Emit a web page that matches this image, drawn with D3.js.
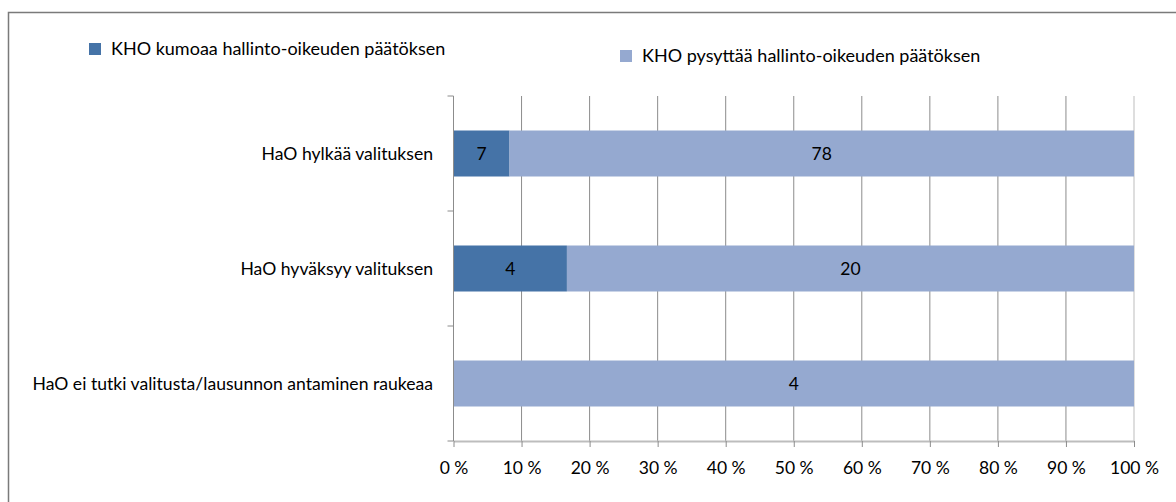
<!DOCTYPE html>
<html>
<head>
<meta charset="utf-8">
<script src="https://cdn.jsdelivr.net/npm/d3@7"></script>
<style>
  body { margin: 0; background: #fff; }
  svg text { font-family: Lato, "Open Sans", sans-serif; fill: #000; }
</style>
</head>
<body>
<div id="chart"></div>
<script>
// data
const categories = [
  "HaO hylkää valituksen",
  "HaO hyväksyy valituksen",
  "HaO ei tutki valitusta/lausunnon antaminen raukeaa"
]
const seriesNames = [
  "KHO kumoaa hallinto-oikeuden päätöksen",
  "KHO pysyttää hallinto-oikeuden päätöksen"
]
const kumoaa = [7, 4, 0]
const pysyttaa = [78, 20, 4]
const tickValues = [0, 0.1, 0.2, 0.3, 0.4, 0.5, 0.6, 0.7, 0.8, 0.9, 1]
const colors = ["#4573a7", "#95a9d0"]

const W = 1176, H = 502
const svg = d3.select("#chart").append("svg")
  .attr("width", W)
  .attr("height", H)

// outer frame (right/bottom edges run off the picture)
svg.append("rect")
  .attr("x", 8.5).attr("y", 12.5)
  .attr("width", 1300).attr("height", 600)
  .attr("fill", "#fff")
  .attr("stroke", "#7a7a7a")
  .attr("stroke-width", 1.5)

const x = d3.scaleLinear().domain([0, 1]).range([453.5, 1134])
const y = d3.scaleBand().domain(categories).range([96, 441])
  .paddingInner(0.6).paddingOuter(0.3)

// stack into shares
const rows = categories.map((c, i) => ({ cat: c, k: kumoaa[i], p: pysyttaa[i] }))
const stacked = d3.stack().keys(["k", "p"])
  .offset(d3.stackOffsetExpand)(rows)

// grid lines
svg.append("g")
  .selectAll("line")
  .data(tickValues.slice(1))
  .join("line")
  .attr("x1", d => x(d)).attr("x2", d => x(d))
  .attr("y1", 96).attr("y2", 441)
  .attr("stroke", d => d === 1 ? "#bdbdbd" : "#8c8c8c")
  .attr("stroke-width", 1)

// bars
const layers = svg.append("g")
  .selectAll("g")
  .data(stacked)
  .join("g")
  .attr("fill", (d, i) => colors[i])

layers.selectAll("rect")
  .data(d => d.map(v => ({ v, cat: v.data.cat })))
  .join("rect")
  .attr("x", d => x(d.v[0]))
  .attr("y", d => y(d.cat))
  .attr("width", d => x(d.v[1]) - x(d.v[0]))
  .attr("height", y.bandwidth())

// value labels
stacked.forEach((layer, li) => {
  const key = layer.key
  svg.append("g")
    .selectAll("text")
    .data(layer.filter(v => v.data[key] > 0))
    .join("text")
    .attr("x", d => (x(d[0]) + x(d[1])) / 2)
    .attr("y", d => y(d.data.cat) + y.bandwidth() / 2)
    .attr("dy", "0.36em")
    .attr("text-anchor", "middle")
    .attr("font-size", 17.5)
    .text(d => d.data[key])
})

// left axis
svg.append("line")
  .attr("x1", x(0)).attr("x2", x(0))
  .attr("y1", 96).attr("y2", 441)
  .attr("stroke", "#8c8c8c")
svg.append("g")
  .selectAll("line")
  .data(d3.range(categories.length + 1))
  .join("line")
  .attr("x1", x(0) - 6).attr("x2", x(0))
  .attr("y1", i => 96 + i * y.step()).attr("y2", i => 96 + i * y.step())
  .attr("stroke", "#8c8c8c")

svg.append("g")
  .selectAll("text")
  .data(categories)
  .join("text")
  .attr("x", 433)
  .attr("y", d => y(d) + y.bandwidth() / 2)
  .attr("dy", "0.36em")
  .attr("text-anchor", "end")
  .attr("font-size", 17.6)
  .text(d => d)

// bottom axis
const xAxis = svg.append("g")
  .attr("transform", "translate(0,441)")
  .call(d3.axisBottom(x).tickValues(tickValues)
    .tickFormat(d => Math.round(d * 100) + " %")
    .tickSize(6).tickSizeOuter(0).tickPadding(15))
xAxis.select(".domain").attr("stroke", "#bdbdbd").attr("stroke-width", 2)
xAxis.selectAll(".tick line").attr("stroke", "#8c8c8c")
xAxis.selectAll("text").attr("font-size", 17.5).attr("fill", "#000")
  .attr("font-family", "Lato, sans-serif")

// legend
const legendPos = [[89, 43], [620, 50]]
seriesNames.forEach((name, i) => {
  const [lx, ly] = legendPos[i]
  svg.append("rect")
    .attr("x", lx).attr("y", ly)
    .attr("width", 12).attr("height", 12)
    .attr("fill", colors[i])
  svg.append("text")
    .attr("x", lx + 22).attr("y", ly + 6)
    .attr("dy", "0.36em")
    .attr("font-size", 18)
    .text(name)
})
</script>
</body>
</html>
